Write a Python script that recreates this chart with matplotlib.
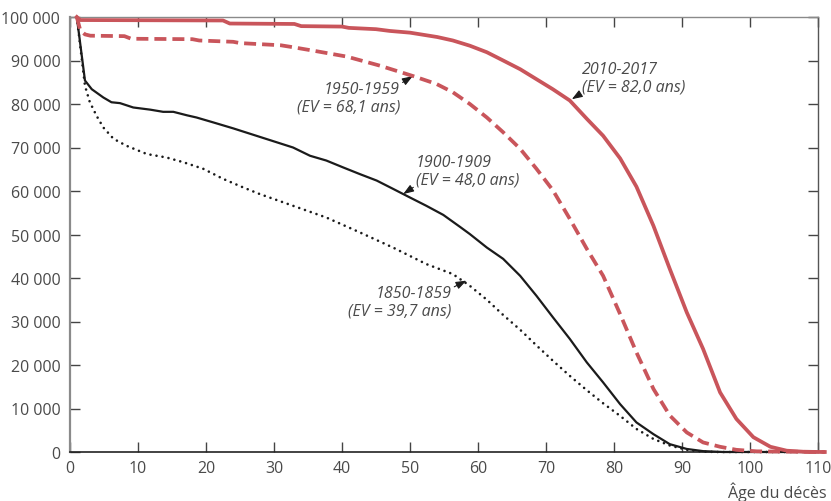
import matplotlib
matplotlib.use("Agg")
import matplotlib.pyplot as plt
from matplotlib.ticker import FuncFormatter

plt.rcParams['font.family'] = ['Open Sans', 'DejaVu Sans']

# ---- data (x = position on the age axis, y = survivors) ----
x_2010 = [1, 1.5, 22.5, 23.5, 33, 34, 40, 41, 45, 47, 50, 52, 54, 56.3, 58.8, 61.3, 63.7,
          66.2, 68.6, 71, 73.5, 76, 78.4, 80.9, 83.3, 85.8, 88.2, 90.7, 93.1, 95.6, 98,
          100.5, 103, 105.4, 108, 111]
y_2010 = [100000, 99300, 99200, 98500, 98400, 97900, 97800, 97500, 97200, 96800, 96400,
          95900, 95400, 94600, 93400, 91900, 90000, 88000, 85700, 83400, 80800, 76600,
          72700, 67500, 61000, 52000, 42100, 32100, 23700, 13700, 7600, 3400, 1200, 300,
          50, 0]

x_1950 = [1, 1.5, 2.2, 3, 8, 9, 18, 19, 24, 25, 31, 33, 36, 40.7, 45.6, 50.5, 53.9, 56.3,
          58.8, 61.3, 63.7, 66.2, 68.6, 71, 73.5, 76, 78.4, 80.9, 83.3, 85.8, 88.2, 90.7,
          93.1, 95.6, 98, 101, 111]
y_1950 = [100000, 97000, 96000, 95700, 95600, 95000, 94900, 94600, 94300, 94000, 93500,
          93000, 92200, 90900, 88800, 86400, 84600, 82700, 80000, 76900, 73500, 69700,
          65100, 60200, 53600, 46700, 40500, 31700, 22900, 14500, 8400, 4500, 2200, 1200,
          500, 150, 0]

x_1900 = [1, 2.2, 3.2, 4.9, 6.1, 7.35, 9.3, 11.8, 13.7, 15.2, 17.2, 18.6, 21, 24, 27,
          29.4, 32.8, 35.3, 37.7, 40.2, 42.6, 45.1, 47.5, 50, 52.4, 54.9, 57.4, 58.8, 61.3,
          63.7, 66.2, 68.6, 71, 73.5, 76, 78.4, 80.9, 83.3, 85.8, 88.2, 90.7, 93.1, 96, 111]
y_1900 = [100000, 85400, 83400, 81500, 80400, 80200, 79200, 78700, 78200, 78200, 77400,
          76900, 75800, 74400, 72900, 71700, 70000, 68100, 67000, 65400, 63900, 62400,
          60500, 58500, 56600, 54500, 51700, 50100, 47000, 44400, 40500, 35900, 31000,
          26000, 20600, 16000, 11000, 6800, 4100, 1800, 700, 200, 0, 0]

x_1850 = [1, 2.2, 2.9, 3.9, 4.9, 6.4, 8.3, 11.3, 14.2, 16.7, 19.6, 22.5, 25.5, 27.9, 32.8,
          37.7, 42.6, 47.5, 52.4, 56.3, 58.8, 61.3, 63.7, 66.2, 68.6, 71, 73.5, 76, 78.4,
          80.9, 83.3, 85.8, 88.2, 90.7, 93, 95, 111]
y_1850 = [100000, 84200, 80500, 77300, 74600, 72000, 70400, 68500, 67700, 66600, 65100,
          62800, 60800, 59300, 56600, 53900, 50500, 47000, 43200, 40900, 38200, 35000,
          31500, 28100, 24500, 21000, 17500, 14200, 11200, 8300, 5300, 3000, 1500, 500,
          100, 0, 0]

x_ticks = list(range(0, 111, 10))
y_ticks = list(range(0, 100001, 10000))

label_2010 = "2010-2017\n(EV = 82,0 ans)"
label_1950 = "1950-1959\n(EV = 68,1 ans)"
label_1900 = "1900-1909\n(EV = 48,0 ans)"
label_1850 = "1850-1859\n(EV = 39,7 ans)"
x_title = "Âge du décès"

RED = "#C9555B"
BLACK = "#1b1b1b"
TXT = "#4a4a4a"

W, H = 831, 502
fig = plt.figure(figsize=(W / 100, H / 100), dpi=100)
ax = fig.add_axes([70 / W, 49 / H, 748 / W, 435 / H])

ax.plot(x_1850, y_1850, color=BLACK, lw=1.9, linestyle=(0, (0.01, 2.3)),
        dash_capstyle='round', clip_on=False, zorder=3)
ax.plot(x_1900, y_1900, color=BLACK, lw=1.6, clip_on=False, zorder=4)
ax.plot(x_1950, y_1950, color=RED, lw=2.7, linestyle=(0, (3.2, 1.6)), clip_on=False, zorder=5)
ax.plot(x_2010, y_2010, color=RED, lw=2.7, clip_on=False, zorder=6)

ax.set_xlim(0, 110)
ax.set_ylim(0, 100000)
ax.set_xticks(x_ticks)
ax.set_yticks(y_ticks)
ax.yaxis.set_major_formatter(FuncFormatter(lambda v, p: f"{int(v):,}".replace(",", " ")))

ax.tick_params(direction='in', top=True, right=True, length=7, width=1,
               labelsize=11.5, labelcolor=TXT, color="#444444")
ax.tick_params(axis='y', pad=7)
ax.tick_params(axis='x', pad=6)

ax.spines['left'].set_color("#8a8a8a")
ax.spines['left'].set_linewidth(1.6)
ax.spines['top'].set_color("#8a8a8a")
ax.spines['top'].set_linewidth(1.0)
ax.spines['right'].set_color("#555555")
ax.spines['right'].set_linewidth(1.0)
ax.spines['bottom'].set_color("#222222")
ax.spines['bottom'].set_linewidth(1.2)


def arrow(relpos):
    return dict(arrowstyle='-|>,head_length=0.55,head_width=0.2', color=BLACK, lw=0.8,
                shrinkA=0, shrinkB=0, relpos=relpos)


txt_kw = dict(fontsize=11.5, style='italic', color=TXT, linespacing=1.1)

ax.annotate(label_2010, xy=(73.8, 81100), xytext=(75.3, 86000),
            ha='left', va='center', multialignment='left', arrowprops=arrow((0.0, 0.05)),
            **txt_kw)
ax.annotate(label_1950, xy=(50.4, 86400), xytext=(48.5, 81500),
            ha='right', va='center', multialignment='right', arrowprops=arrow((1.0, 0.9)),
            **txt_kw)
ax.annotate(label_1900, xy=(49.0, 59300), xytext=(50.9, 64700),
            ha='left', va='center', multialignment='left', arrowprops=arrow((0.0, 0.05)),
            **txt_kw)
ax.annotate(label_1850, xy=(58.3, 39400), xytext=(56.1, 34600),
            ha='right', va='center', multialignment='right', arrowprops=arrow((1.0, 0.9)),
            **txt_kw)

fig.text(827 / W, 1 - 492 / H, x_title, ha='right', va='center', fontsize=11.5, color=TXT)

fig.savefig("out.png", dpi=100)
